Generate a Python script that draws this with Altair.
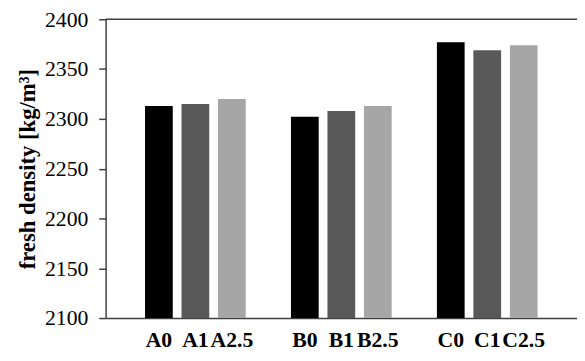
import altair as alt
import pandas as pd

# ---- data ----
bar_labels = ["A0", "A1", "A2.5", "B0", "B1", "B2.5", "C0", "C1", "C2.5"]
series = ["0", "1", "2.5", "0", "1", "2.5", "0", "1", "2.5"]
density = [2313, 2315, 2320, 2302, 2308, 2313, 2377, 2369, 2374]
x_domain = ["_gap0", "A0", "A1", "A2.5", "_gap1", "B0", "B1", "B2.5", "_gap2",
            "C0", "C1", "C2.5", "_gap3"]
series_domain = ["0", "1", "2.5"]
series_colors = ["#000000", "#595959", "#a6a6a6"]
y_ticks = [2100, 2150, 2200, 2250, 2300, 2350, 2400]
y_min, y_max = 2100, 2400

df = pd.DataFrame({"label": bar_labels, "series": series, "density": density})

FONT = "Liberation Serif"
LINE = "#404040"

bars = alt.Chart(df).mark_bar().encode(
    x=alt.X(
        "label:N",
        scale=alt.Scale(domain=x_domain, paddingInner=0.24, paddingOuter=0.08),
        axis=alt.Axis(
            title=None,
            labelAngle=0,
            ticks=False,
            labelExpr="indexof(datum.label, '_') == 0 ? '' : datum.label",
            labelFont=FONT,
            labelFontSize=22,
            labelFontWeight="bold",
            labelColor="black",
            labelPadding=12,
            domainColor=LINE,
            domainWidth=1.5,
        ),
    ),
    y=alt.Y(
        "density:Q",
        scale=alt.Scale(domain=[y_min, y_max], nice=False, zero=False),
        axis=alt.Axis(
            values=y_ticks,
            format="d",
            grid=False,
            title="fresh density [kg/m³]",
            titleFont=FONT,
            titleFontSize=23,
            titleFontWeight="bold",
            titleColor="black",
            titlePadding=5,
            labelFont=FONT,
            labelFontSize=22,
            labelColor="black",
            labelPadding=11,
            tickSize=7,
            tickColor=LINE,
            tickWidth=1.5,
            domainColor=LINE,
            domainWidth=1.5,
        ),
    ),
    y2=alt.datum(y_min),
    color=alt.Color(
        "series:N",
        scale=alt.Scale(domain=series_domain, range=series_colors),
        legend=None,
    ),
)

top_rule = alt.Chart(pd.DataFrame({"v": [y_max]})).mark_rule(
    color=LINE, strokeWidth=1.5
).encode(y=alt.Y("v:Q"))

chart = (
    alt.layer(bars, top_rule)
    .properties(
        width=478,
        height=303,
        autosize=alt.AutoSizeParams(type="none"),
        padding={"left": 99, "top": 9, "right": 0, "bottom": 33},
    )
    .configure_view(strokeWidth=0)
)

chart.save("out.html", embed_options={"renderer": "svg", "actions": False})
